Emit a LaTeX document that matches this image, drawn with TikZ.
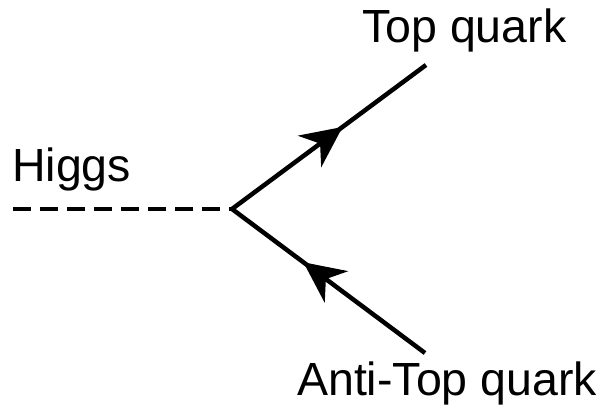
\documentclass[tikz,border=0pt]{standalone}
\usepackage{fontspec}
\setmainfont{Liberation Sans}
\usetikzlibrary{arrows.meta,decorations.markings,positioning}
\tikzset{
  scalar/.style={line width=4.5pt, dash pattern=on 18pt off 9pt},
  fermion/.style={line width=4.5pt, postaction={decorate},
    decoration={markings, mark=at position #1 with
      {\arrow{Stealth[length=41pt,width=39pt,inset=13pt]}}}},
  partlabel/.style={anchor=base west, inner sep=0pt,
    font=\fontsize{46.5}{56}\selectfont}
}
\begin{document}
\begin{tikzpicture}[x=1pt,y=-1pt]
  \useasboundingbox (0,0) rectangle (605,409);
  \coordinate (v) at (232,209);
  \coordinate (h) at (13,209);
  \coordinate (t) at (426,65);
  \coordinate (tb) at (425,353);
  \draw[scalar] (h) -- (v);
  \draw[fermion=0.57] (v) -- (t);
  \draw[fermion=0.63] (tb) -- (v);
  \node[partlabel] (higgs) at (12,182) {Higgs};
  \node[partlabel] (top) at (362,43) {Top quark};
  \node[partlabel] (antitop) at (297,395) {Anti-Top quark};
\end{tikzpicture}
\end{document}
